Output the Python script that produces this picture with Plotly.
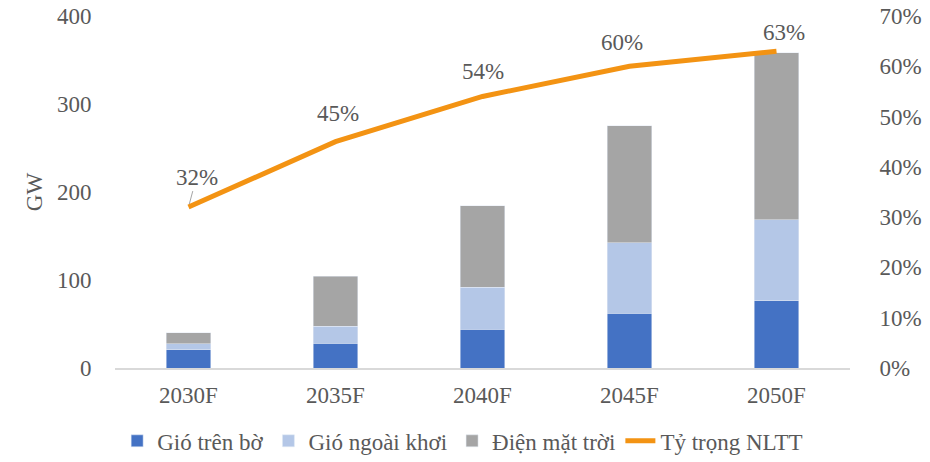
import plotly.graph_objects as go

categories = ["2030F", "2035F", "2040F", "2045F", "2050F"]
onshore = [20.5, 28, 44, 62, 76.5]
offshore = [7, 19.5, 47.5, 80.5, 92]
solar = [12.5, 56.5, 93, 133, 189.5]
share = [0.32, 0.45, 0.54, 0.60, 0.63]
share_labels = ["32%", "45%", "54%", "60%", "63%"]

FONT = "Liberation Serif"
TXT = "#595959"
FS = 23

# label offsets (px) relative to each line point, mimicking the original placement
label_dx = [8, 2, 0, -8, 7]
label_dy = [30, 28, 25, 24, 19]

fig = go.Figure()
fig.add_trace(go.Bar(x=categories, y=onshore, name="Gió trên bờ", marker_color="#4472C4"))
fig.add_trace(go.Bar(x=categories, y=offshore, name="Gió ngoài khơi", marker_color="#B4C7E7"))
fig.add_trace(go.Bar(x=categories, y=solar, name="Điện mặt trời", marker_color="#A5A5A5"))
fig.add_trace(go.Scatter(x=categories, y=share, name="Tỷ trọng NLTT", mode="lines",
                         line=dict(color="#F39313", width=5), yaxis="y2"))

for i, (c, v, t) in enumerate(zip(categories, share, share_labels)):
    if i == 0:
        fig.add_annotation(x=c, y=v, yref="y2", text=t, showarrow=True, arrowhead=0,
                           arrowcolor="#A5A5A5", arrowwidth=1, ax=label_dx[i], ay=-label_dy[i],
                           standoff=3, font=dict(family=FONT, size=FS, color=TXT))
    else:
        fig.add_annotation(x=c, y=v, yref="y2", text=t, showarrow=False,
                           xshift=label_dx[i], yshift=label_dy[i], yanchor="middle",
                           font=dict(family=FONT, size=FS, color=TXT))

fig.update_layout(
    width=930, height=462,
    barmode="stack", bargap=0.694,
    margin=dict(l=115, r=80, t=16, b=94, autoexpand=False),
    plot_bgcolor="white", paper_bgcolor="white",
    font=dict(family=FONT, size=FS, color=TXT),
    xaxis=dict(showline=True, linecolor="#D9D9D9", linewidth=1.5, ticks="", automargin=False,
               ticklabelstandoff=6, tickfont=dict(size=FS, color=TXT)),
    yaxis=dict(range=[0, 400], dtick=100, showgrid=False, zeroline=False, automargin=False,
               ticks="outside", ticklen=18, tickcolor="rgba(0,0,0,0)",
               ticklabeloverflow="allow",
               title=dict(text="GW", font=dict(size=FS, color=TXT), standoff=7),
               tickfont=dict(size=FS, color=TXT)),
    yaxis2=dict(range=[0, 0.7], dtick=0.1, tickformat=".0%", overlaying="y", side="right",
                automargin=False, showgrid=False, zeroline=False,
                ticks="outside", ticklen=24, tickcolor="rgba(0,0,0,0)",
                ticklabeloverflow="allow",
                tickfont=dict(size=FS, color=TXT)),
    legend=dict(orientation="h", x=0.473, xanchor="center", y=-0.207, yanchor="middle",
                font=dict(size=FS, color=TXT), traceorder="normal"),
)

fig.write_html("out.html", config={"displayModeBar": False},
               post_script="document.body.style.margin='0';")
